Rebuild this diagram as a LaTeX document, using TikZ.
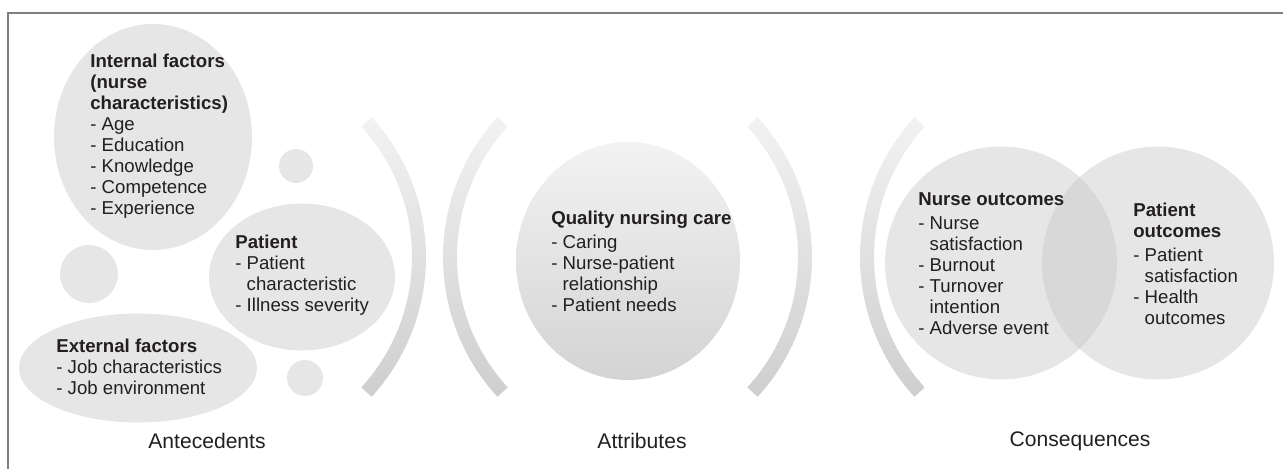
\documentclass[tikz,border=0pt]{standalone}
\usepackage{fontspec}
\setmainfont{Liberation Sans}
\usetikzlibrary{shapes.geometric}

\definecolor{blobgray}{HTML}{E6E6E7}
\definecolor{lensgray}{HTML}{D8D8D9}
\definecolor{framegray}{HTML}{7F7F7F}
\definecolor{inkgray}{HTML}{231F20}

% indent for the second line of a list item
\newcommand{\contline}{\hphantom{- }}

\tikzset{
  blob/.style={ellipse, fill=blobgray, inner sep=0pt},
  itemtext/.style={anchor=west, align=left, text=inkgray, inner sep=0pt,
    font=\fontsize{10.6}{11.9}\selectfont},
  caption/.style={text=inkgray, font=\fontsize{12}{14}\selectfont},
  bracket/.style={top color=white!95!black, bottom color=black!19},
}

\begin{document}
\begin{tikzpicture}
\useasboundingbox (0,0) rectangle (25.66,9.38);
\draw[framegray, line width=0.85pt] (0.16,0) -- (0.16,9.12) -- (25.66,9.12);

% brackets between the three groups
\foreach \cx/\a in {4.38/0, 13.00/180, 12.10/0, 21.34/180}
  \shade[bracket] (\cx,4.24) ++(\a-42.5:3.86)
    arc[start angle=\a-42.5, end angle=\a+42.5, radius=3.86]
    -- ++(\a+42.5:0.28)
    arc[start angle=\a+42.5, end angle=\a-42.5, radius=4.14] -- cycle;

% antecedents
\node[blob, minimum width=3.96cm, minimum height=4.52cm] (inner) at (3.06,6.64) {};
\node[blob, minimum width=3.72cm, minimum height=2.94cm] (patient) at (6.04,3.84) {};
\node[blob, minimum width=4.76cm, minimum height=2.18cm] (outer) at (2.76,2.02) {};
\node[blob, circle, minimum size=0.68cm] (dot1) at (5.92,6.06) {};
\node[blob, circle, minimum size=1.16cm] (dot2) at (1.78,3.90) {};
\node[blob, circle, minimum size=0.72cm] (dot3) at (6.10,1.82) {};

\node[itemtext] (innertext) at (1.80,6.66) {\textbf{Internal factors}\\\textbf{(nurse}\\\textbf{characteristics)}\\- Age\\- Education\\- Knowledge\\- Competence\\- Experience};
\node[itemtext] (patienttext) at (4.70,3.88) {\textbf{Patient}\\- Patient\\\contline characteristic\\- Illness severity};
\node[itemtext] (outertext) at (1.12,2.05) {\textbf{External factors}\\- Job characteristics\\- Job environment};

% attributes
\node[ellipse, minimum width=4.48cm, minimum height=4.76cm, inner sep=0pt,
  top color=white!95!black, bottom color=black!17] (quality) at (12.56,4.16) {};
\node[itemtext] (qualitytext) at (11.02,4.16) {\textbf{Quality nursing care}\\[2pt]- Caring\\- Nurse-patient\\\contline relationship\\- Patient needs};

% consequences
\node[blob, minimum width=4.64cm, minimum height=4.66cm] (nurse) at (20.02,4.12) {};
\node[blob, minimum width=4.64cm, minimum height=4.66cm] (pout) at (23.16,4.12) {};
\begin{scope}
  \clip (nurse.center) ellipse [x radius=2.32cm, y radius=2.33cm];
  \fill[lensgray] (pout.center) ellipse [x radius=2.32cm, y radius=2.33cm];
\end{scope}
\node[itemtext] (nursetext) at (18.36,4.11) {\textbf{Nurse outcomes}\\[2pt]- Nurse\\\contline satisfaction\\- Burnout\\- Turnover\\\contline intention\\- Adverse event};
\node[itemtext] (pouttext) at (22.66,4.10) {\textbf{Patient}\\\textbf{outcomes}\\[2pt]- Patient\\\contline satisfaction\\- Health\\\contline outcomes};

\node[caption] (antecedents) at (4.14,0.56) {Antecedents};
\node[caption] (attributes) at (12.84,0.56) {Attributes};
\node[caption] (consequences) at (21.60,0.56) {Consequences};
\end{tikzpicture}
\end{document}
